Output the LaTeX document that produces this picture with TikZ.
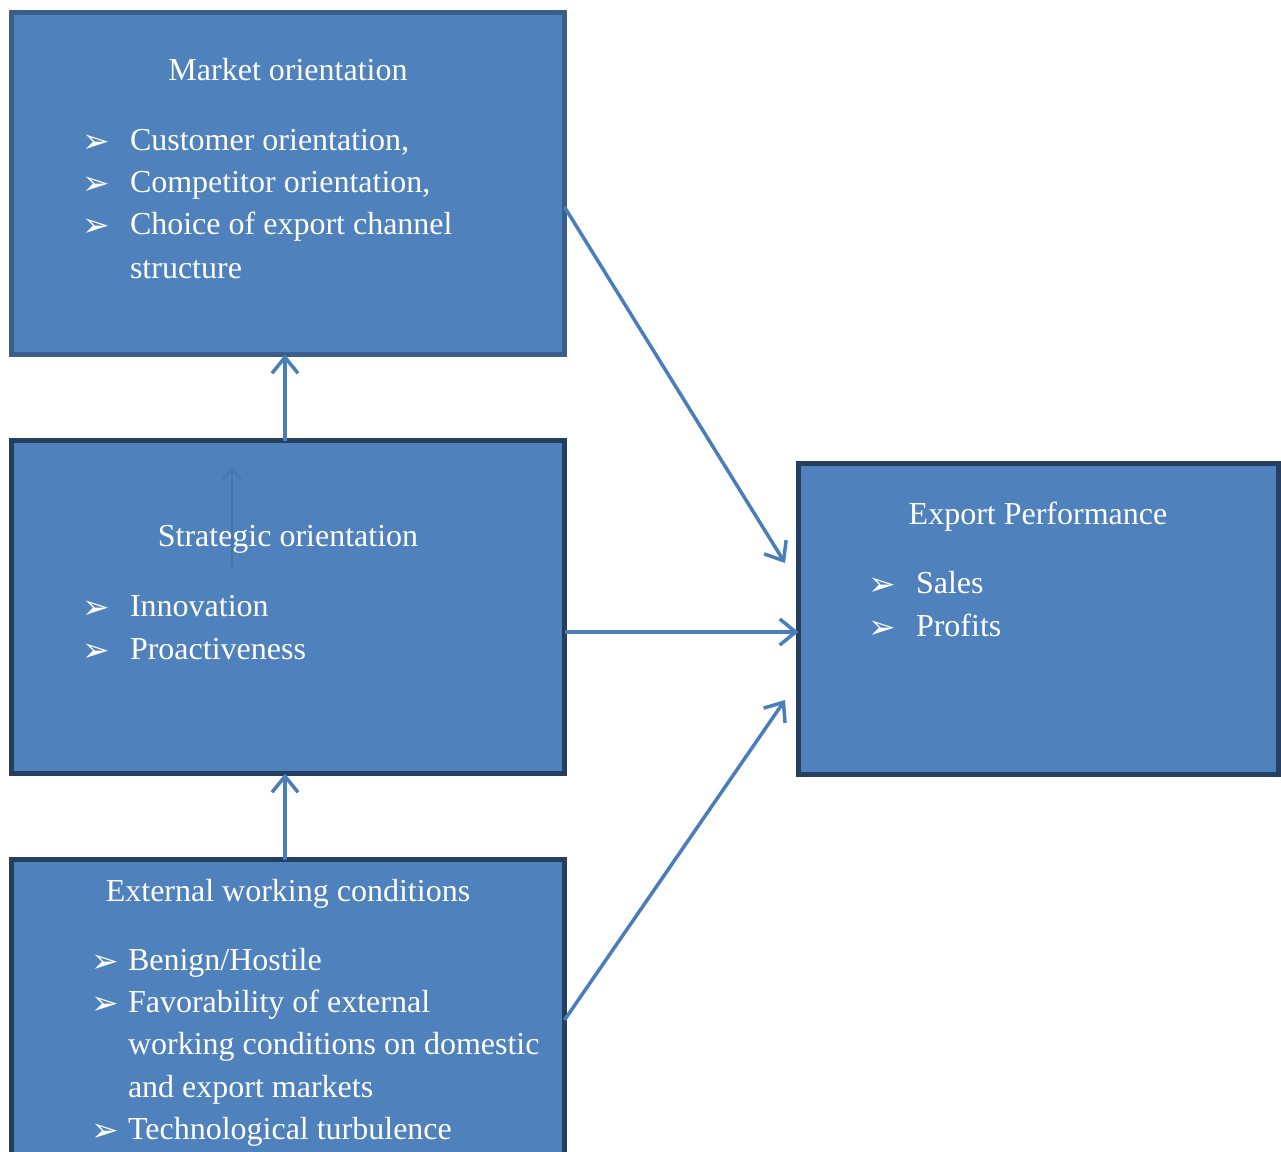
\documentclass[tikz,border=0pt]{standalone}
\usepackage{fontspec}
\setmainfont{Liberation Serif}
\newfontfamily\dejavu{DejaVu Sans}
\usetikzlibrary{arrows.meta}
\definecolor{boxfill}{HTML}{4F81BD}
\definecolor{edgeA}{HTML}{3A5F8D}
\definecolor{edgeB}{HTML}{243F60}
\definecolor{arrowcol}{HTML}{4A7EBB}
\definecolor{faintcol}{HTML}{4774AA}
\newcommand{\bulmark}{{\dejavu\fontsize{33}{33}\selectfont ➢}}
\tikzset{
  panel/.style={fill=boxfill, draw=edgeB, line width=5pt, outer sep=0pt, inner sep=0pt},
  toppanel/.style={panel, draw=edgeA},
  txt/.style={text=white, inner sep=0pt, outer sep=0pt, font=\fontsize{32}{42}\selectfont},
  titletxt/.style={txt, anchor=base},
  itemtxt/.style={txt, anchor=base west},
  bul/.style={text=white, inner sep=0pt, anchor=base west},
  link/.style={draw=arrowcol, line width=3.5pt, -{Straight Barb[length=16pt,width=26pt,line width=3.5pt]}},
  faint/.style={draw=faintcol, line width=1.5pt, -{Straight Barb[length=10pt,width=18pt,line width=1.5pt]}}
}
\begin{document}
\begin{tikzpicture}[x=1pt,y=-1pt]
\useasboundingbox (0,0) rectangle (1281,1151);
\clip (0,0) rectangle (1281,1151);
% boxes
\node[toppanel, minimum width=553pt, minimum height=342pt] (mo) at (288,183.5) {};
\node[panel, minimum width=553pt, minimum height=333pt] (so) at (288,607) {};
\node[panel, minimum width=553pt, minimum height=330pt] (ew) at (288,1024.5) {};
\node[panel, minimum width=480pt, minimum height=311pt] (ep) at (1038.5,619) {};
% market orientation text
\node[titletxt] (moT) at (288,80) {Market orientation};
\node[bul] (moB1) at (82,152) {\bulmark};
\node[itemtxt] (moI1) at (130,150) {Customer orientation,};
\node[bul] (moB2) at (82,194) {\bulmark};
\node[itemtxt] (moI2) at (130,192) {Competitor orientation,};
\node[bul] (moB3) at (82,236) {\bulmark};
\node[itemtxt] (moI3) at (130,234) {Choice of export channel};
\node[itemtxt] (moI4) at (130,278) {structure};
% strategic orientation text
\node[titletxt] (soT) at (288,546) {Strategic orientation};
\node[bul] (soB1) at (82,618) {\bulmark};
\node[itemtxt] (soI1) at (130,616) {Innovation};
\node[bul] (soB2) at (82,661) {\bulmark};
\node[itemtxt] (soI2) at (130,659) {Proactiveness};
% export performance text
\node[titletxt] (epT) at (1038,524) {Export Performance};
\node[bul] (epB1) at (868,595) {\bulmark};
\node[itemtxt] (epI1) at (916,593) {Sales};
\node[bul] (epB2) at (868,638) {\bulmark};
\node[itemtxt] (epI2) at (916,636) {Profits};
% external working conditions text
\node[titletxt] (ewT) at (288,901) {External working conditions};
\node[bul] (ewB1) at (91,972) {\bulmark};
\node[itemtxt] (ewI1) at (128,970) {Benign/Hostile};
\node[bul] (ewB2) at (91,1014) {\bulmark};
\node[itemtxt] (ewI2) at (128,1012) {Favorability of external};
\node[itemtxt] (ewI3) at (128,1054) {working conditions on domestic};
\node[itemtxt] (ewI4) at (128,1097) {and export markets};
\node[bul] (ewB3) at (91,1141) {\bulmark};
\node[itemtxt] (ewI5) at (128,1139) {Technological turbulence};
% connectors
\coordinate (soTop) at (so.north -| 285,0);
\coordinate (moBot) at (mo.south -| 285,0);
\coordinate (ewTop) at (ew.north -| 285,0);
\coordinate (soBot) at (so.south -| 285,0);
\coordinate (epIn1) at (785,563);
\coordinate (epIn3) at (785,700);
\coordinate (faintS) at (232,567);
\coordinate (faintE) at (232,468);
\draw[faint] (faintS) -- (faintE);
\draw[link] (soTop) -- (moBot);
\draw[link] (ewTop) -- (soBot);
\draw[link] (mo.east |- 0,207) -- (epIn1);
\draw[link] (so.east |- 0,632) -- (ep.west |- 0,632);
\draw[link] (ew.east |- 0,1020) -- (epIn3);
\end{tikzpicture}
\end{document}
